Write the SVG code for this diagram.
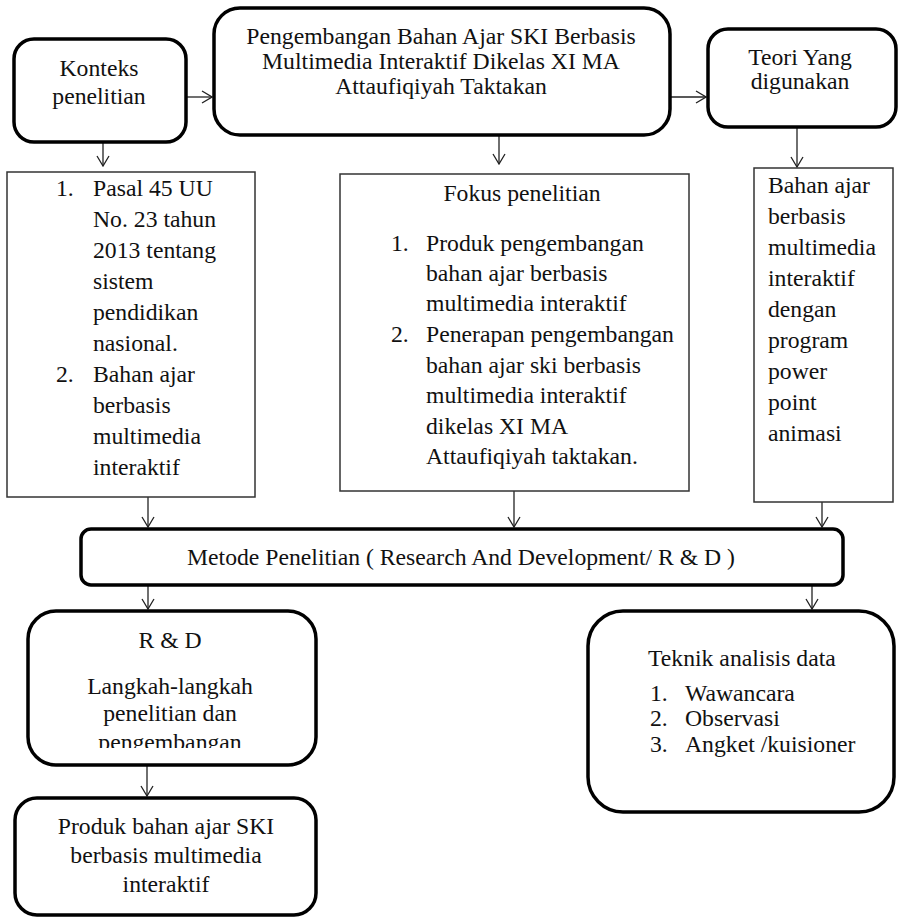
<svg xmlns="http://www.w3.org/2000/svg" width="904" height="919" viewBox="0 0 904 919" font-family="'Liberation Serif', 'Times New Roman', serif">
<style>
text{font-family:'Liberation Serif','Times New Roman',serif;font-size:23.7px;fill:#111}
.c{text-anchor:middle}
.rb{fill:#fff;stroke:#000;stroke-width:3.5}
.sb{fill:#fff;stroke:#333;stroke-width:1.5}
.ln{fill:none;stroke:#222;stroke-width:1.3}
</style>
<defs>
<marker id="ah" markerUnits="userSpaceOnUse" viewBox="0 0 12 14" refX="11" refY="7" markerWidth="12" markerHeight="14" orient="auto">
<path d="M1,1 L11,7 L1,13" fill="none" stroke="#222" stroke-width="1.3"/>
</marker>
<clipPath id="rdclip"><rect x="27" y="610" width="290" height="138"/></clipPath>
</defs>
<rect width="904" height="919" fill="#fff"/>
<g id="connectors">
<line class="ln" x1="186" y1="97" x2="212" y2="97" marker-end="url(#ah)"/>
<line class="ln" x1="670" y1="97" x2="706" y2="97" marker-end="url(#ah)"/>
<line class="ln" x1="103" y1="143" x2="103" y2="166" marker-end="url(#ah)"/>
<line class="ln" x1="499" y1="135" x2="499" y2="164" marker-end="url(#ah)"/>
<line class="ln" x1="797" y1="127" x2="797" y2="167" marker-end="url(#ah)"/>
<line class="ln" x1="148" y1="497" x2="148" y2="527" marker-end="url(#ah)"/>
<line class="ln" x1="514" y1="491" x2="514" y2="527" marker-end="url(#ah)"/>
<line class="ln" x1="822" y1="502" x2="822" y2="527" marker-end="url(#ah)"/>
<line class="ln" x1="148" y1="586" x2="148" y2="609" marker-end="url(#ah)"/>
<line class="ln" x1="812" y1="586" x2="812" y2="609" marker-end="url(#ah)"/>
<line class="ln" x1="147" y1="765" x2="147" y2="796" marker-end="url(#ah)"/>
</g>
<g id="konteks">
<rect class="rb" x="14" y="39" width="172" height="103" rx="20"/>
<text class="c" x="99" y="76">Konteks</text>
<text class="c" x="99" y="104">penelitian</text>
</g>
<g id="judul">
<rect class="rb" x="214" y="8" width="456" height="127" rx="26"/>
<text class="c" x="441" y="44">Pengembangan Bahan Ajar SKI Berbasis</text>
<text class="c" x="441" y="69">Multimedia Interaktif Dikelas XI MA</text>
<text class="c" x="441" y="94">Attaufiqiyah Taktakan</text>
</g>
<g id="teori">
<rect class="rb" x="708" y="29" width="188" height="98" rx="20"/>
<text class="c" x="800" y="65">Teori Yang</text>
<text class="c" x="800" y="89">digunakan</text>
</g>
<g id="konteks-isi">
<rect class="sb" x="7" y="172" width="248" height="325"/>
<text x="56" y="196">1.</text>
<text x="93" y="196">Pasal 45 UU</text>
<text x="93" y="227">No. 23 tahun</text>
<text x="93" y="258">2013 tentang</text>
<text x="93" y="289">sistem</text>
<text x="93" y="320">pendidikan</text>
<text x="93" y="351">nasional.</text>
<text x="56" y="382">2.</text>
<text x="93" y="382">Bahan ajar</text>
<text x="93" y="413">berbasis</text>
<text x="93" y="444">multimedia</text>
<text x="93" y="475">interaktif</text>
</g>
<g id="fokus">
<rect class="sb" x="340" y="174" width="349" height="317"/>
<text class="c" x="522" y="201">Fokus penelitian</text>
<text x="391" y="251">1.</text>
<text x="426" y="251">Produk pengembangan</text>
<text x="426" y="281">bahan ajar berbasis</text>
<text x="426" y="311">multimedia interaktif</text>
<text x="391" y="342">2.</text>
<text x="426" y="342">Penerapan pengembangan</text>
<text x="426" y="373">bahan ajar ski berbasis</text>
<text x="426" y="403">multimedia interaktif</text>
<text x="426" y="434">dikelas XI MA</text>
<text x="426" y="464">Attaufiqiyah taktakan.</text>
</g>
<g id="teori-isi">
<rect class="sb" x="754" y="168" width="139" height="334"/>
<text x="768" y="193">Bahan ajar</text>
<text x="768" y="224">berbasis</text>
<text x="768" y="255">multimedia</text>
<text x="768" y="286">interaktif</text>
<text x="768" y="317">dengan</text>
<text x="768" y="348">program</text>
<text x="768" y="379">power</text>
<text x="768" y="410">point</text>
<text x="768" y="441">animasi</text>
</g>
<g id="metode">
<rect class="rb" x="81" y="529" width="762" height="56" rx="10"/>
<text class="c" x="461" y="565">Metode Penelitian ( Research And Development/ R &amp; D )</text>
</g>
<g id="rnd">
<rect class="rb" x="28" y="611" width="288" height="154" rx="28"/>
<text class="c" x="170" y="648">R &amp; D</text>
<g clip-path="url(#rdclip)">
<text class="c" x="170" y="694">Langkah-langkah</text>
<text class="c" x="170" y="721">penelitian dan</text>
<text class="c" x="170" y="750">pengembangan</text>
</g>
</g>
<g id="produk">
<rect class="rb" x="15" y="798" width="301" height="117" rx="22"/>
<text class="c" x="166" y="834">Produk bahan ajar SKI</text>
<text class="c" x="166" y="863">berbasis multimedia</text>
<text class="c" x="166" y="892">interaktif</text>
</g>
<g id="teknik">
<rect class="rb" x="588" y="611" width="306" height="201" rx="35"/>
<text x="648" y="666">Teknik analisis data</text>
<text x="650" y="701">1.</text>
<text x="685" y="701">Wawancara</text>
<text x="650" y="726">2.</text>
<text x="685" y="726">Observasi</text>
<text x="650" y="752">3.</text>
<text x="685" y="752">Angket /kuisioner</text>
</g>
</svg>
